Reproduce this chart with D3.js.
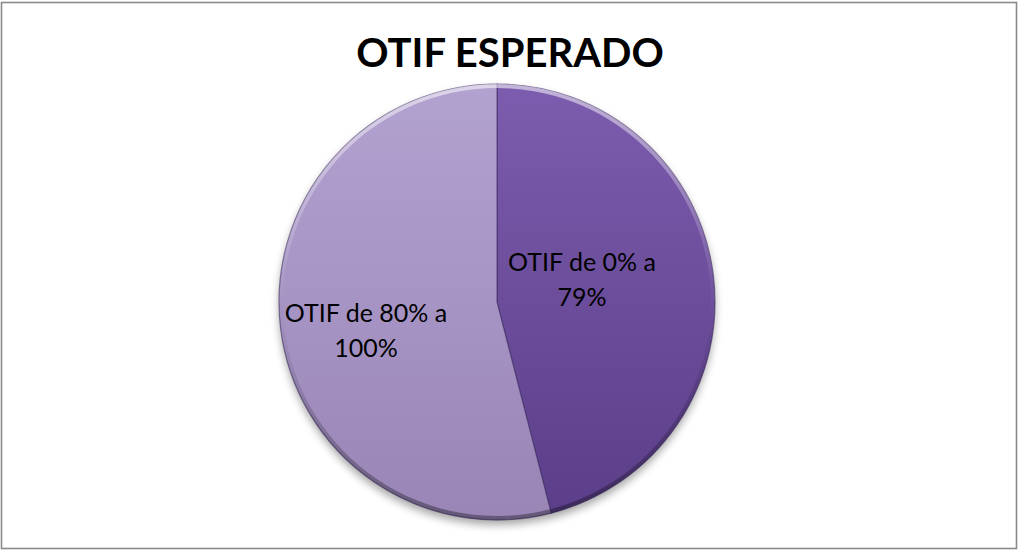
<!DOCTYPE html>
<html>
<head>
<meta charset="utf-8">
<script src="https://cdn.jsdelivr.net/npm/d3@7"></script>
<style>
  html, body { margin: 0; padding: 0; background: #fff; }
  svg { display: block; }
</style>
</head>
<body>
<svg id="chart" width="1018" height="550"></svg>
<script>
// Share of shipments by OTIF range
const categories = ["OTIF de 0% a 79%", "OTIF de 80% a 100%"];
const values = [46, 54];
const labelLines = [["OTIF de 0% a", "79%"], ["OTIF de 80% a", "100%"]];
const title = "OTIF ESPERADO";

const W = 1018, H = 550;
const cx = 497, cy = 302, R = 218;

const svg = d3.select("#chart");
const defs = svg.append("defs");

// Slice shading: top-to-bottom gradient per slice (coordinates local to the pie group)
const palette = [
  { top: "#7c5cae", mid: "#6b4d9b", bot: "#5b3e89" },
  { top: "#b2a2d0", mid: "#a694c4", bot: "#9985b6" }
];
palette.forEach((p, i) => {
  const g = defs.append("linearGradient")
    .attr("id", "grad" + i)
    .attr("gradientUnits", "userSpaceOnUse")
    .attr("x1", 0).attr("y1", -R).attr("x2", 0).attr("y2", R);
  g.append("stop").attr("offset", "0%").attr("stop-color", p.top);
  g.append("stop").attr("offset", "50%").attr("stop-color", p.mid);
  g.append("stop").attr("offset", "100%").attr("stop-color", p.bot);
});

// Soft shadow under the pie
const shadow = defs.append("filter").attr("id", "shadow")
  .attr("x", "-20%").attr("y", "-20%").attr("width", "140%").attr("height", "140%");
shadow.append("feGaussianBlur").attr("in", "SourceAlpha").attr("stdDeviation", 4);
shadow.append("feOffset").attr("dx", 0).attr("dy", 5).attr("result", "off");
shadow.append("feComponentTransfer").append("feFuncA").attr("type", "linear").attr("slope", 0.35);

// Bevel rim: lighter at the top, darker at the bottom
const rim = defs.append("linearGradient").attr("id", "rim")
  .attr("gradientUnits", "userSpaceOnUse")
  .attr("x1", 0).attr("y1", -R).attr("x2", 0).attr("y2", R);
rim.append("stop").attr("offset", "0%").attr("stop-color", "#ffffff").attr("stop-opacity", 0.55);
rim.append("stop").attr("offset", "45%").attr("stop-color", "#ffffff").attr("stop-opacity", 0.05);
rim.append("stop").attr("offset", "60%").attr("stop-color", "#000000").attr("stop-opacity", 0.05);
rim.append("stop").attr("offset", "100%").attr("stop-color", "#000000").attr("stop-opacity", 0.35);

// Frame
svg.append("rect")
  .attr("x", 1.5).attr("y", 2.5)
  .attr("width", 1015).attr("height", 546)
  .attr("fill", "#fff")
  .attr("stroke", "#8a8a8a")
  .attr("stroke-width", 1.6);

// Title
svg.append("text")
  .attr("x", 510).attr("y", 67)
  .attr("text-anchor", "middle")
  .attr("font-family", "Lato, 'Open Sans', sans-serif")
  .attr("font-weight", "bold")
  .attr("font-size", 40)
  .attr("fill", "#000")
  .text(title);

const pie = d3.pie().sort(null).value(d => d)(values);
const arc = d3.arc().innerRadius(0).outerRadius(R);

const g = svg.append("g").attr("transform", `translate(${cx},${cy})`);

// Shadow
g.append("circle").attr("r", R).attr("fill", "#000").attr("filter", "url(#shadow)");

// Slices
g.selectAll("path.slice")
  .data(pie)
  .join("path")
  .attr("class", "slice")
  .attr("d", arc)
  .attr("fill", (d, i) => `url(#grad${i})`)
  .attr("stroke", "#3e2b60")
  .attr("stroke-opacity", 0.6)
  .attr("stroke-width", 1.2);

// Bevel on the slice outlines
const bevel = d3.arc().innerRadius(R - 4).outerRadius(R);
g.selectAll("path.bevel")
  .data(pie)
  .join("path")
  .attr("class", "bevel")
  .attr("d", bevel)
  .attr("fill", "url(#rim)");

// Slice labels
const labelPos = [[85, -31], [-131, 20]];
const lineGap = 35;
pie.forEach((d, i) => {
  const t = g.append("text")
    .attr("text-anchor", "middle")
    .attr("font-family", "Lato, 'Open Sans', sans-serif")
    .attr("font-size", 25)
    .attr("fill", "#000");
  labelLines[i].forEach((line, j) => {
    t.append("tspan")
      .attr("x", labelPos[i][0])
      .attr("y", labelPos[i][1] + j * lineGap)
      .text(line);
  });
});
</script>
</body>
</html>
